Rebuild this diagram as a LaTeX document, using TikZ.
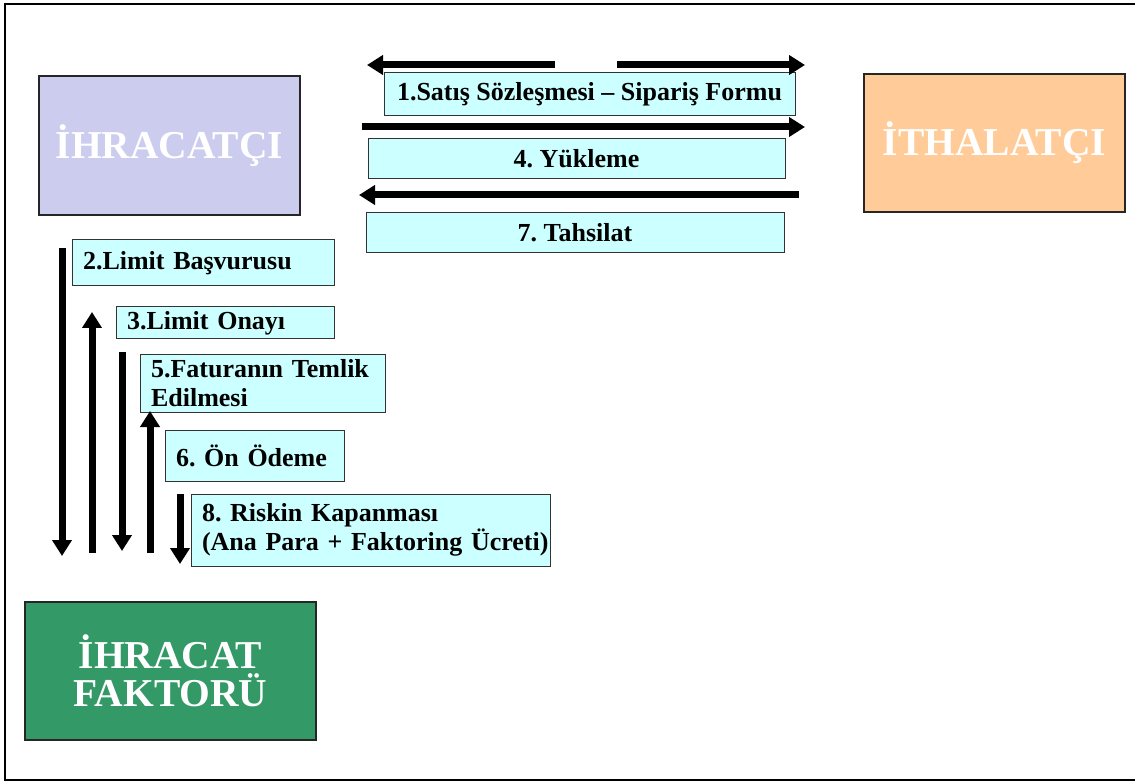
\documentclass[tikz,border=0pt]{standalone}
\usepackage{fontspec}
\setmainfont{Liberation Serif}
\usetikzlibrary{arrows.meta}
\definecolor{lav}{HTML}{CCCCEE}
\definecolor{orng}{HTML}{FFCC99}
\definecolor{grn}{HTML}{339966}
\definecolor{cyanbox}{HTML}{CCFFFF}
\frenchspacing
\tikzset{
  bigbox/.style={draw=black!85, line width=1.5pt, inner sep=0pt, text=white,
    font=\bfseries\fontsize{39.5}{38}\selectfont, align=center},
  lbl/.style={draw=black!80, line width=1pt, fill=cyanbox, inner sep=0pt,
    font=\bfseries\fontsize{26}{29}\selectfont},
  lblc/.style={lbl, align=center},
  lbll/.style={lbl, align=left, inner xsep=11pt},
  fat/.style={line width=7pt, -{Triangle[width=19pt,length=16pt]}},
}
\begin{document}
\begin{tikzpicture}[x=1pt,y=-1pt]
\useasboundingbox (0,0) rectangle (1135,783);
\draw[line width=2pt] (1140,4) -- (5,4) -- (5,780) -- (1140,780);

% main parties
\node[bigbox, fill=lav, minimum width=261pt, minimum height=139pt] (ihr) at (169.5,145.5) {İHRACATÇI};
\node[bigbox, fill=orng, minimum width=261pt, minimum height=138pt] (ith) at (994.5,143) {İTHALATÇI};
\node[bigbox, fill=grn, minimum width=291pt, minimum height=138pt] (fak) at (170.5,671) {İHRACAT\\FAKTORÜ};

% horizontal labels
\node[lblc, minimum width=411pt, minimum height=43pt] (l1) at (589.5,94.5) {1.Satış Sözleşmesi – Sipariş Formu};
\node[lblc, minimum width=417pt, minimum height=40pt] (l4) at (576.5,159) {4. Yükleme};
\node[lblc, minimum width=418pt, minimum height=40pt] (l7) at (575,233) {7. Tahsilat};

% vertical labels
\node[lbll, text width=240pt, minimum height=46pt] (l2) at (203,263) {\mbox{2.Limit Başvurusu}};
\node[lbll, text width=196pt, minimum height=32pt] (l3) at (225,323) {\mbox{3.Limit Onayı}};
\node[lbll, text width=223pt, minimum height=57pt] (l5) at (262.5,383.5) {\mbox{5.Faturanın Temlik}\\Edilmesi};
\node[lbll, text width=157pt, minimum height=51pt] (l6) at (254.5,455.5) {\mbox{6. Ön Ödeme}};
\node[lbll, text width=337pt, minimum height=72pt] (l8) at (370.5,530) {\mbox{8. Riskin Kapanması}\\\mbox{(Ana Para + Faktoring Ücreti)}};

% arrow end points
\coordinate (a1s) at (555,65);  \coordinate (a1e) at (367,65);
\coordinate (b1s) at (617,65);  \coordinate (b1e) at (805,65);
\coordinate (a4s) at (362,127); \coordinate (a4e) at (805,127);
\coordinate (a7s) at (799,195); \coordinate (a7e) at (359,195);
\coordinate (v1s) at (62,248);  \coordinate (v1e) at (62,556);
\coordinate (v2s) at (92,553);  \coordinate (v2e) at (92,312);
\coordinate (v3s) at (122,352); \coordinate (v3e) at (122,551);
\coordinate (v4s) at (150,553); \coordinate (v4e) at (150,411);
\coordinate (v5s) at (180,494); \coordinate (v5e) at (180,564);

\draw[fat] (a1s) -- (a1e);
\draw[fat] (b1s) -- (b1e);
\draw[fat] (a4s) -- (a4e);
\draw[fat] (a7s) -- (a7e);
\draw[fat] (v1s) -- (v1e);
\draw[fat] (v2s) -- (v2e);
\draw[fat] (v3s) -- (v3e);
\draw[fat] (v4s) -- (v4e);
\draw[fat] (v5s) -- (v5e);
\end{tikzpicture}
\end{document}
